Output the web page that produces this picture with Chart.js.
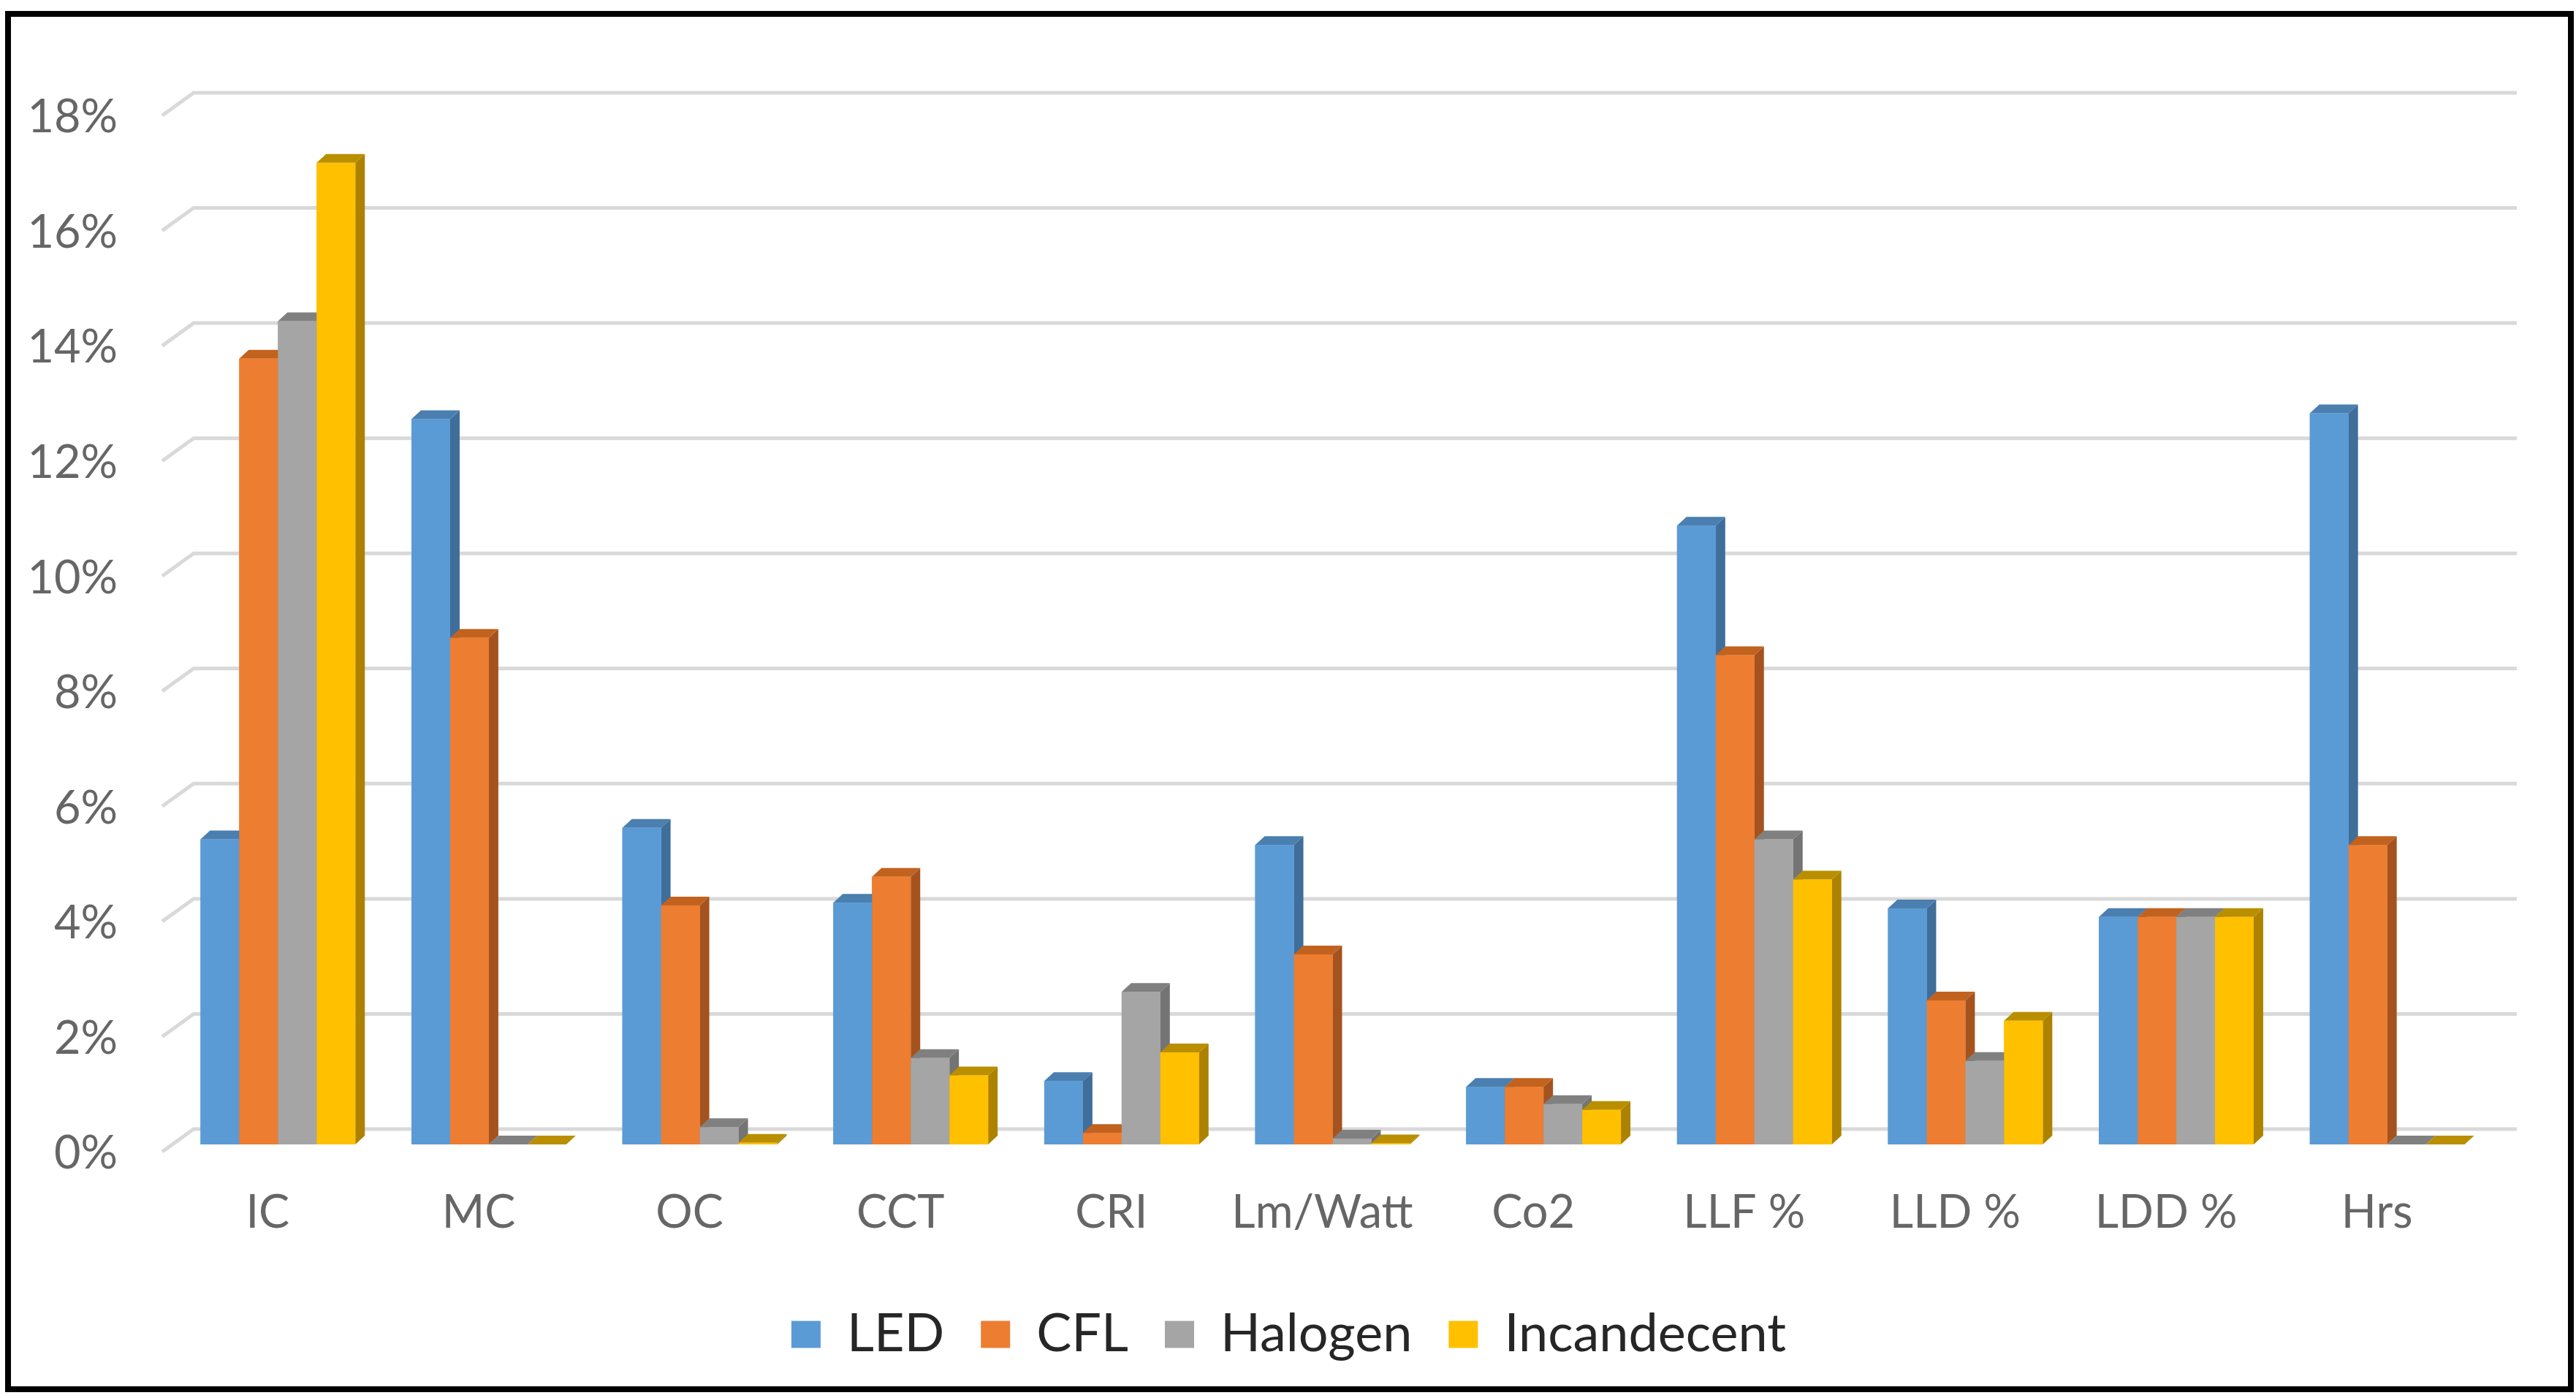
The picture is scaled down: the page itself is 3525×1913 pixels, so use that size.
<!DOCTYPE html>
<html><head><meta charset="utf-8">
<style>html,body{margin:0;padding:0;background:#fff}canvas{display:block}</style>
<script src="https://cdn.jsdelivr.net/npm/chart.js@4"></script>
</head><body><canvas id="c" width="3525" height="1913"></canvas>
<script>
const categories = ["IC","MC","OC","CCT","CRI","Lm/Watt","Co2","LLF %","LLD %","LDD %","Hrs"];
const led = [5.3,12.6,5.5,4.2,1.1,5.2,1.0,10.75,4.1,3.95,12.7];
const cfl = [13.65,8.8,4.15,4.65,0.2,3.3,1.0,8.5,2.5,3.95,5.2];
const halogen = [14.3,0,0.3,1.5,2.65,0.1,0.7,5.3,1.45,3.95,0];
const incandecent = [17.05,0,0.03,1.2,1.6,0.02,0.6,4.6,2.15,3.95,0];
const seriesNames = ["LED","CFL","Halogen","Incandecent"];
const frontColors = ["#5B9BD5","#ED7D31","#A5A5A5","#FFC000"];
const sideColors = ["#3F6E9A","#A4531F","#747474","#AD8200"];
const topColors = ["#4A7FB0","#C2621F","#808080","#B98F00"];

const DX = 13, DY = 12, BACK_DY = 21, WALL_L = 265, WALL_R = 3444, DIAG_X = 222, DIAG_Y = 31;

const bars3d = {
  id: 'bars3d',
  beforeDraw(chart) {
    const c = chart.ctx;
    c.save();
    c.fillStyle = '#fff';
    c.fillRect(0,0,chart.width,chart.height);
    c.strokeStyle = '#000';
    c.lineWidth = 8;
    c.strokeRect(11,19,3507,1882);
    c.restore();
  },
  afterLayout(chart) {
    chart.legend.top = 1806 - chart.legend.height/2;
    chart.legend.bottom = chart.legend.top + chart.legend.height;
    chart.legend.left += 58;
    chart.legend.right += 58;
  },
  beforeDatasetsDraw(chart) {
    const c = chart.ctx, y = chart.scales.y;
    c.save();
    c.strokeStyle = '#D9D9D9';
    c.lineWidth = 5;
    y.ticks.forEach(t => {
      const py = y.getPixelForValue(t.value) - BACK_DY;
      c.beginPath();
      c.moveTo(DIAG_X, py + DIAG_Y);
      c.lineTo(WALL_L, py);
      c.lineTo(WALL_R, py);
      c.stroke();
    });
    c.restore();
  },
  afterDatasetsDraw(chart) {
    const c = chart.ctx;
    const base = chart.scales.y.getPixelForValue(0);
    for (let i = 0; i < categories.length; i++) {
      chart.data.datasets.forEach((ds, d) => {
        const el = chart.getDatasetMeta(d).data[i];
        const w = el.width, xl = el.x - w/2, xr = el.x + w/2, t = el.y;
        c.fillStyle = sideColors[d];
        c.beginPath();
        c.moveTo(xr,t); c.lineTo(xr+DX,t-DY); c.lineTo(xr+DX,base-DY); c.lineTo(xr,base);
        c.closePath(); c.fill();
        c.fillStyle = topColors[d];
        c.beginPath();
        c.moveTo(xl,t); c.lineTo(xl+DX,t-DY); c.lineTo(xr+DX,t-DY); c.lineTo(xr,t);
        c.closePath(); c.fill();
        el.draw(c);
      });
    }
  }
};

new Chart(document.getElementById('c'), {
  type: 'bar',
  data: {
    labels: categories,
    datasets: [led,cfl,halogen,incandecent].map((v,i)=>({
      label: seriesNames[i], data: v, backgroundColor: frontColors[i], borderWidth: 0,
      categoryPercentage: 0.734, barPercentage: 1
    }))
  },
  plugins: [bars3d],
  options: {
    responsive: false, animation: false, devicePixelRatio: 1,
    layout: { autoPadding: false, padding: { left: 0, right: 114, top: 148, bottom: 0 } },
    plugins: {
      tooltip: { enabled: false },
      legend: {
        position: 'bottom',
        labels: {
          boxWidth: 40, boxHeight: 37, padding: 50, color: '#262626',
          font: { family: 'Lato', size: 72 }
        }
      }
    },
    scales: {
      x: {
        grid: { display: false }, border: { display: false },
        afterFit(s) { s.height = 215; },
        ticks: { color: '#666666', font: { family: 'Lato', size: 63 }, padding: 48, labelOffset: -14, maxRotation: 0, autoSkip: false }
      },
      y: {
        min: 0, max: 18,
        grid: { display: false }, border: { display: false },
        afterFit(s) { s.width = 236; },
        ticks: { stepSize: 2, color: '#666666', font: { family: 'Lato', size: 63 }, padding: 67, labelOffset: 13, callback: v => v + '%' }
      }
    }
  }
});
</script></body></html>
